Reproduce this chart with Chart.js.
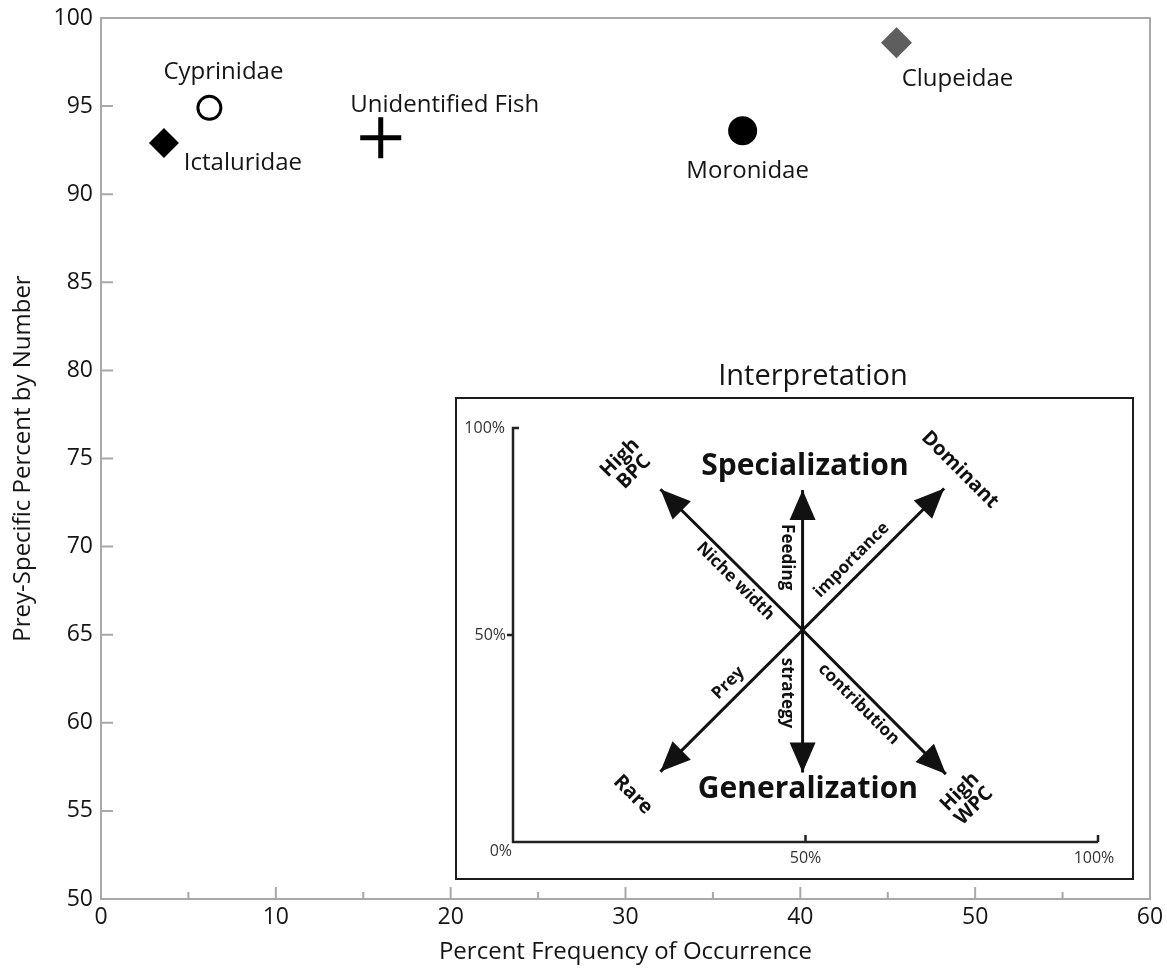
<!DOCTYPE html>
<html>
<head>
<meta charset="utf-8">
<script src="https://cdn.jsdelivr.net/npm/chart.js@4.4.0/dist/chart.umd.min.js"></script>
<style>
  html, body { margin: 0; padding: 0; background: #fff; }
  #wrap { position: relative; width: 1167px; height: 978px; }
  #inset { position: absolute; left: 455px; top: 360px; }
</style>
</head>
<body>
<div id="wrap">
  <canvas id="mainChart" width="1167" height="978"></canvas>
  <canvas id="inset" width="680" height="521"></canvas>
</div>
<script>
// main scatter data
const families = ['Ictaluridae', 'Cyprinidae', 'Unidentified Fish', 'Moronidae', 'Clupeidae'];
const freqOccurrence = [3.6, 6.2, 16.0, 36.7, 45.5];
const preySpecificN = [92.9, 94.9, 93.2, 93.6, 98.6];
const xTickValues = [0, 10, 20, 30, 40, 50, 60];
const xMinorValues = [5, 15, 25, 35, 45, 55];
const yTickValues = [50, 55, 60, 65, 70, 75, 80, 85, 90, 95, 100];

// inset ("Interpretation") diagram data, in % of the inset axes
const insetTicks = [0, 50, 100];
const insetTickLabels = ['0%', '50%', '100%'];
const arrowCenter = [49.5, 51.2];
const arrowTipX = [25.2, 49.5, 73.7, 25.2, 49.5, 74.0];
const arrowTipY = [85.2, 85.0, 85.4, 17.0, 16.8, 16.4];

// marker styles
const markerStyles = ['rectRot', 'circle', 'cross', 'circle', 'rectRot'];
const markerRadius = [15, 11.5, 20.5, 14.5, 15.5];
const markerFill = ['#000', '#fff', '#000', '#000', '#5e5e5e'];
const markerLine = ['#000', '#000', '#000', '#000', '#5e5e5e'];
const markerLineWidth = [0, 3, 5, 0, 0];
const labelOffsets = [[79, 20], [14, -36], [64, -33], [5, 40], [61, 36]];

const FONT = "'Open Sans', 'Noto Sans', sans-serif";
const AXIS_GRAY = '#a8a8a8';
const TEXT = '#151515';

// frame + inward ticks + point labels
const mainDecor = {
    id: 'mainDecor',
    afterDraw(chart) {
        const { ctx, chartArea: { left, right, top, bottom }, scales: { x, y } } = chart;
        ctx.save();
        ctx.strokeStyle = AXIS_GRAY;
        ctx.lineWidth = 2;
        ctx.strokeRect(left, top, right - left, bottom - top);

        ctx.beginPath();
        xTickValues.forEach(v => {
            const px = x.getPixelForValue(v);
            ctx.moveTo(px, bottom); ctx.lineTo(px, bottom - 12);
        });
        xMinorValues.forEach(v => {
            const px = x.getPixelForValue(v);
            ctx.moveTo(px, bottom); ctx.lineTo(px, bottom - 7);
        });
        yTickValues.forEach(v => {
            const py = y.getPixelForValue(v);
            ctx.moveTo(left, py); ctx.lineTo(left + 12, py);
        });
        ctx.stroke();

        // family names beside the markers
        const meta = chart.getDatasetMeta(0);
        ctx.fillStyle = TEXT;
        ctx.font = `24px ${FONT}`;
        ctx.textAlign = 'center';
        ctx.textBaseline = 'middle';
        meta.data.forEach((pt, i) => {
            ctx.fillText(families[i], pt.x + labelOffsets[i][0], pt.y + labelOffsets[i][1]);
        });
        ctx.restore();
    }
};

new Chart(document.getElementById('mainChart'), {
    type: 'scatter',
    data: {
        datasets: [{
            data: freqOccurrence.map((v, i) => ({ x: v, y: preySpecificN[i] })),
            pointStyle: markerStyles,
            pointRadius: markerRadius,
            pointHoverRadius: markerRadius,
            pointBackgroundColor: markerFill,
            pointBorderColor: markerLine,
            pointBorderWidth: markerLineWidth,
            clip: false
        }]
    },
    options: {
        responsive: false,
        animation: false,
        layout: { autoPadding: false, padding: { top: 18, right: 17, left: 0, bottom: 0 } },
        plugins: { legend: { display: false }, tooltip: { enabled: false } },
        scales: {
            x: {
                type: 'linear', min: 0, max: 60,
                afterBuildTicks: s => { s.ticks = xTickValues.map(v => ({ value: v })); },
                afterFit: s => { s.height = 79; s.paddingLeft = 0; s.paddingRight = 0; },
                grid: { display: false, drawTicks: false },
                border: { display: false },
                ticks: { color: TEXT, font: { family: FONT, size: 23 }, padding: 5, maxRotation: 0 },
                title: {
                    display: true, text: 'Percent Frequency of Occurrence', color: TEXT,
                    font: { family: FONT, size: 24 }, padding: { top: 0, bottom: 11 }
                }
            },
            y: {
                type: 'linear', min: 50, max: 100,
                afterBuildTicks: s => { s.ticks = yTickValues.map(v => ({ value: v })); },
                afterFit: s => { s.width = 101; s.paddingTop = 0; s.paddingBottom = 0; },
                grid: { display: false, drawTicks: false },
                border: { display: false },
                ticks: { color: TEXT, font: { family: FONT, size: 23 }, padding: 8 },
                title: {
                    display: true, text: 'Prey-Specific Percent by Number', color: TEXT,
                    font: { family: FONT, size: 24 }, padding: { top: 9, bottom: 0 }
                }
            }
        }
    },
    plugins: [mainDecor]
});

// inset annotations, in inset axis units
const insetNotes = [
    { text: ['Specialization'], x: 49.9, y: 90.8, rot: 0, size: 30 },
    { text: ['Generalization'], x: 50.4, y: 12.6, rot: 0, size: 30 },
    { text: ['High', 'BPC'], x: 19.5, y: 91.1, rot: -45, size: 20 },
    { text: ['Dominant'], x: 76.4, y: 89.9, rot: 45, size: 20 },
    { text: ['Rare'], x: 20.5, y: 11.4, rot: 45, size: 20 },
    { text: ['High', 'WPC'], x: 77.6, y: 10.4, rot: -45, size: 20 },
    { text: ['Niche width'], x: 38.0, y: 63.0, rot: 45, size: 17 },
    { text: ['Feeding'], x: 46.8, y: 68.8, rot: 90, size: 17 },
    { text: ['importance'], x: 57.9, y: 68.1, rot: -45, size: 17 },
    { text: ['Prey'], x: 36.8, y: 38.4, rot: -45, size: 17 },
    { text: ['strategy'], x: 46.8, y: 36.0, rot: 90, size: 17 },
    { text: ['contribution'], x: 59.1, y: 33.3, rot: 45, size: 17 }
];

const insetDecor = {
    id: 'insetDecor',
    beforeDraw(chart) {
        const { ctx, width, height, scales: { x, y } } = chart;
        ctx.save();
        ctx.fillStyle = '#fff';
        ctx.fillRect(0, 38, width, height - 38);
        ctx.strokeStyle = '#1c1c1c';
        ctx.lineWidth = 2;
        ctx.strokeRect(1, 38, width - 3, height - 40);

        ctx.fillStyle = TEXT;
        ctx.font = `29px ${FONT}`;
        ctx.textAlign = 'center';
        ctx.textBaseline = 'middle';
        ctx.fillText('Interpretation', 358, 17);

        // L-shaped axes
        const x0 = x.getPixelForValue(0), x100 = x.getPixelForValue(100);
        const y0 = y.getPixelForValue(0), y100 = y.getPixelForValue(100);
        ctx.strokeStyle = '#222';
        ctx.lineWidth = 2.5;
        ctx.beginPath();
        ctx.moveTo(x0 + 6, y100); ctx.lineTo(x0, y100); ctx.lineTo(x0, y0); ctx.lineTo(x100, y0);
        const y50 = y.getPixelForValue(50);
        ctx.moveTo(x0, y50); ctx.lineTo(x0 - 6, y50);
        [50, 100].forEach(v => {
            const px = x.getPixelForValue(v);
            ctx.moveTo(px, y0); ctx.lineTo(px, y0 - 7);
        });
        ctx.stroke();

        ctx.fillStyle = '#333';
        ctx.font = `16px ${FONT}`;
        ctx.textAlign = 'right';
        insetTicks.forEach((v, i) => {
            const py = y.getPixelForValue(v);
            if (v === 0) ctx.fillText(insetTickLabels[i], x0 - 1, py + 9);
            else ctx.fillText(insetTickLabels[i], x0 - (v === 100 ? 8 : 7), py);
        });
        ctx.textAlign = 'center';
        insetTicks.forEach((v, i) => {
            if (v === 0) return;
            const px = x.getPixelForValue(v);
            ctx.fillText(insetTickLabels[i], px - (v === 100 ? 4 : 0), y0 + 16);
        });
        ctx.restore();
    },
    afterDatasetsDraw(chart) {
        const { ctx, scales: { x, y } } = chart;
        ctx.save();
        ctx.fillStyle = '#111';
        chart.data.datasets.forEach((ds, i) => {
            const pts = chart.getDatasetMeta(i).data;
            const a = pts[0], b = pts[1];
            const ang = Math.atan2(b.y - a.y, b.x - a.x);
            const len = 30, half = 13;
            ctx.save();
            ctx.translate(b.x, b.y);
            ctx.rotate(ang);
            ctx.beginPath();
            ctx.moveTo(0, 0);
            ctx.lineTo(-len, -half);
            ctx.lineTo(-len, half);
            ctx.closePath();
            ctx.fill();
            ctx.restore();
        });

        ctx.fillStyle = '#111';
        ctx.textAlign = 'center';
        ctx.textBaseline = 'middle';
        insetNotes.forEach(n => {
            ctx.save();
            ctx.translate(x.getPixelForValue(n.x), y.getPixelForValue(n.y));
            ctx.rotate(n.rot * Math.PI / 180);
            ctx.font = `bold ${n.size}px ${FONT}`;
            const lh = n.size * 1.0;
            n.text.forEach((t, k) => {
                ctx.fillText(t, 0, (k - (n.text.length - 1) / 2) * lh);
            });
            ctx.restore();
        });
        ctx.restore();
    }
};

new Chart(document.getElementById('inset'), {
    type: 'scatter',
    data: {
        datasets: arrowTipX.map((tx, i) => ({
            data: [{ x: arrowCenter[0], y: arrowCenter[1] }, { x: tx, y: arrowTipY[i] }],
            showLine: true,
            borderColor: '#111',
            borderWidth: 3,
            pointRadius: 0
        }))
    },
    options: {
        responsive: false,
        animation: false,
        layout: { autoPadding: false, padding: { left: 58, right: 37, top: 68, bottom: 39 } },
        plugins: { legend: { display: false }, tooltip: { enabled: false } },
        scales: {
            x: { type: 'linear', min: 0, max: 100, display: false },
            y: { type: 'linear', min: 0, max: 100, display: false }
        }
    },
    plugins: [insetDecor]
});
</script>
</body>
</html>
